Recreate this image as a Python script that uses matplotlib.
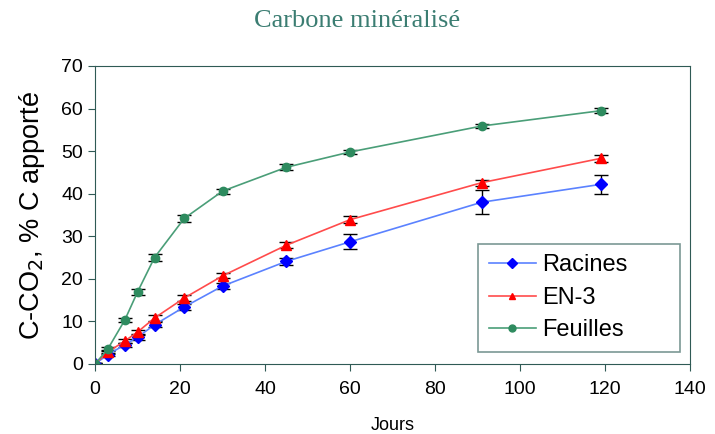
import numpy as np
import matplotlib.pyplot as plt

plt.rcParams['font.family'] = ['Liberation Sans', 'DejaVu Sans']

# Days of incubation
jours = [0, 3, 7, 10, 14, 21, 30, 45, 60, 91, 119]

# Mineralised carbon (% of added C)
racines = [0, 2.2, 4.5, 6.3, 9.2, 13.4, 18.3, 24.1, 28.7, 38.0, 42.2]
racines_err = [0.2, 0.4, 0.5, 0.6, 0.6, 0.7, 0.7, 0.9, 1.8, 2.8, 2.2]
en3 = [0, 2.8, 5.4, 7.5, 10.8, 15.5, 20.7, 27.9, 33.9, 42.6, 48.3]
en3_err = [0.2, 0.4, 0.5, 0.5, 0.6, 0.6, 0.6, 0.7, 0.8, 0.7, 0.8]
feuilles = [0, 3.5, 10.3, 16.9, 25.0, 34.2, 40.6, 46.2, 49.8, 55.9, 59.5]
feuilles_err = [0.2, 0.4, 0.5, 0.8, 0.9, 0.9, 0.6, 0.7, 0.5, 0.5, 0.6]

fig = plt.figure(figsize=(7.15, 4.34), dpi=100)
ax = fig.add_axes([95 / 715, 1 - 364 / 434, 595 / 715, 298 / 434])

err_kw = dict(ecolor='black', elinewidth=1, capsize=5, capthick=1)
ax.errorbar(jours, racines, yerr=racines_err, color='#5b82ff', lw=1.2,
            marker='D', ms=6, mfc='#0000ff', mec='#0000ff', label='Racines', **err_kw)
ax.errorbar(jours, en3, yerr=en3_err, color='#ff4b4b', lw=1.2,
            marker='^', ms=7, mfc='#ff0000', mec='#ff0000', label='EN-3', **err_kw)
ax.errorbar(jours, feuilles, yerr=feuilles_err, color='#4a9e78', lw=1.2,
            marker='o', ms=6, mfc='#2e8b5f', mec='#2e8b5f', label='Feuilles', **err_kw)

ax.set_xlim(0, 140)
ax.set_ylim(0, 70)
ax.set_xticks(np.arange(0, 141, 20))
ax.set_yticks(np.arange(0, 71, 10))
ax.tick_params(labelsize=14, direction='out', length=5, color='#2f5a55')
ax.tick_params(axis='x', pad=7)
for s in ax.spines.values():
    s.set_color('#2f5a55')
ax.set_xlabel('Jours', fontsize=13, labelpad=14)
ax.set_ylabel('C-CO$_2$, % C apporté', fontsize=19.5, labelpad=10)
fig.text(0.5, 1 - 21 / 434, 'Carbone minéralisé', ha='center', va='center',
         fontsize=19, color='#3b7d72', family='Liberation Serif')

h, l = ax.get_legend_handles_labels()
leg = ax.legend([x[0] for x in h], l, loc='lower left',
                bbox_to_anchor=(0.644, 0.04, 0.339, 0.37), mode='expand',
                fontsize=17, frameon=True, fancybox=False, handlelength=2.0,
                handletextpad=0.25, borderpad=0.45, labelspacing=0.45,
                borderaxespad=0)
leg.get_frame().set_edgecolor('#5a7f7a')
leg.get_frame().set_linewidth(1.2)
for lh in leg.legend_handles:
    lh.set_markersize(5)

fig.savefig('out.png', dpi=100)
